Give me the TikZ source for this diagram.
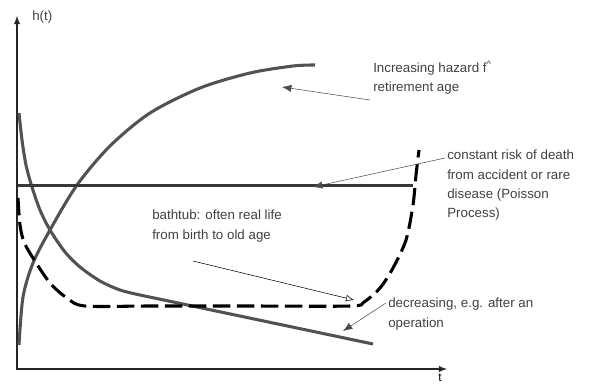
\documentclass[tikz,border=0pt]{standalone}
\usepackage{fontspec}
\setmainfont{Liberation Sans}
\usetikzlibrary{arrows.meta}
\begin{document}
\begin{tikzpicture}[x=.75pt,y=-.75pt,>={Latex[length=7pt,width=5.5pt]},
    txt/.style={anchor=north west,inner sep=0pt,align=left,text=black!75,font=\fontsize{10}{14.5}\selectfont},
    curve/.style={line width=2.3pt,draw=black!68},
    tub/.style={line width=2.3pt,dash pattern=on 13pt off 5pt},
    note/.style={->,thin,draw=black!80}]
  \useasboundingbox(0,0)rectangle(607,386);
  \draw[-latex,line width=1.1pt,black!85](17,370)--(17,16);
  \draw[-latex,line width=1.1pt,black!85](16,369)--(447,369);
  \node(h) at(32,11)[txt]{h(t)};
  \node(t) at(440,373)[anchor=north,inner sep=0pt,font=\fontsize{9}{9}\selectfont]{t};
  \draw[curve] plot[smooth] coordinates{(19,345)(23,297)(33,263)(50,230)(77,185)(110,146)(150,113)(200,88)(250,73)(293,66)(315,65)};
  \draw[curve] plot[smooth] coordinates{(19,113)(22,140)(26,165)(32,187)(40,210)(50,230)(65,252)(80,267)(100,281)(120,290)(140,295)}--(373,344);
  \draw[curve,draw=black!78,line width=2.6pt](17,185.5)--(413,185.5);
  \draw[tub] plot[smooth] coordinates{(18,198)(20,225)(24,242)(33,258)(50,283)(67,298)(85,306)(150,306)(250,306)(350,306)(364,302)(380,288)(393,268)(406,240)(413,205)(416,175)(419,150)};
  \node(inc) at(373,61)[txt]{Increasing hazard f\textsuperscript{\textasciicircum}\\retirement age};
  \node(const) at(447,150)[txt]{constant risk of death\\from accident or rare\\disease (Poisson\\Process)};
  \node(bath) at(152,210)[txt]{bathtub: often real life\\from birth to old age};
  \node(dec) at(388,298)[txt]{decreasing, e.g. after an\\operation};
  \coordinate(incS) at(370,100);
  \coordinate(incE) at(282,87);
  \coordinate(constE) at(313,187);
  \coordinate(bathS) at(193,261);
  \coordinate(bathE) at(354,300);
  \coordinate(decE) at(343,331);
  \draw[note,black!70](incS)--(incE);
  \draw[note,black!70]([shift={(-2,8)}]const.north west)--(constE);
  \draw[-{Latex[open,length=6pt,width=5pt]},thin](bathS)--(bathE);
  \draw[note,black!70]([shift={(-2,5)}]dec.north west)--(decE);
\end{tikzpicture}
\end{document}
